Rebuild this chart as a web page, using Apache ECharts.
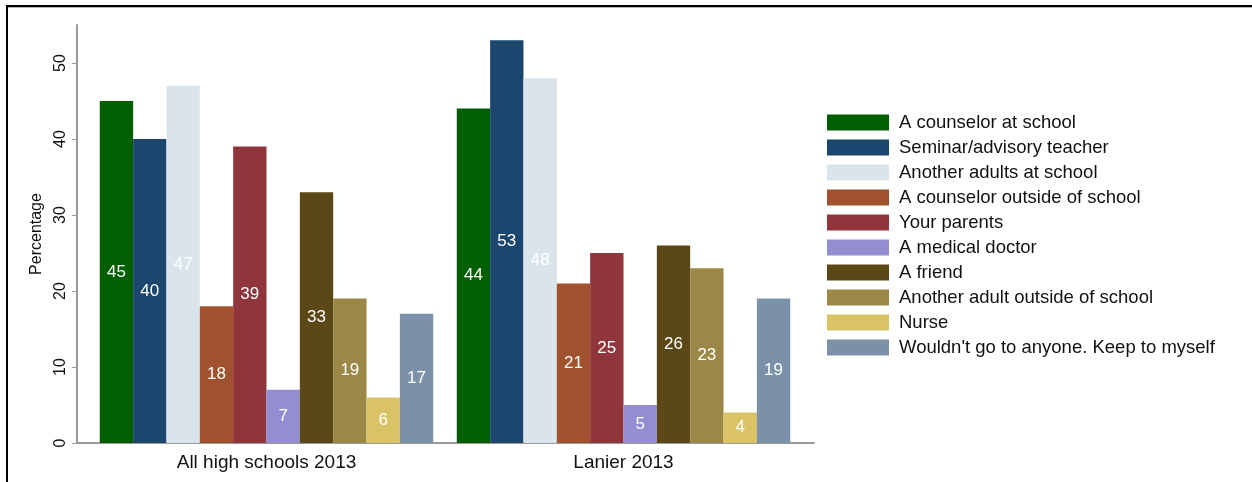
<!DOCTYPE html>
<html>
<head>
<meta charset="utf-8">
<script src="https://cdn.jsdelivr.net/npm/echarts@6/dist/echarts.min.js"></script>
<style>
html,body{margin:0;padding:0;background:#fff;}
#chart{width:1252px;height:482px;}
</style>
</head>
<body>
<div id="chart"></div>
<script>
var categories = ['All high schools 2013', 'Lanier 2013'];
var seriesNames = [
  'A counselor at school',
  'Seminar/advisory teacher',
  'Another adults at school',
  'A counselor outside of school',
  'Your parents',
  'A medical doctor',
  'A friend',
  'Another adult outside of school',
  'Nurse',
  "Wouldn't go to anyone. Keep to myself"
];
var allHighSchools = [45, 40, 47, 18, 39, 7, 33, 19, 6, 17];
var lanier = [44, 53, 48, 21, 25, 5, 26, 23, 4, 19];
var yTicks = [0, 10, 20, 30, 40, 50];
var colors = ['#025f01', '#1b466e', '#d9e4eb', '#a0522e', '#90353c', '#938dd1', '#5a4817', '#9b8847', '#dac367', '#7a91a8'];

var font = '"Liberation Sans", Arial, sans-serif';
var series = seriesNames.map(function (name, i) {
  return {
    name: name,
    type: 'bar',
    xAxisIndex: 1,
    yAxisIndex: 1,
    barGap: 0,
    barCategoryGap: '6.6%',
    data: [allHighSchools[i], lanier[i]],
    itemStyle: { color: colors[i] },
    label: {
      show: true,
      position: 'inside',
      color: '#ffffff',
      fontSize: 17,
      fontFamily: font
    },
    emphasis: { disabled: true }
  };
});

var chart = echarts.init(document.getElementById('chart'), null, { renderer: 'canvas' });
chart.setOption({
  animation: false,
  backgroundColor: '#ffffff',
  color: colors,
  grid: [
    { left: 77, top: 25, right: 438, bottom: 39, containLabel: false },
    { left: 88, top: 25, right: 450, bottom: 39, containLabel: false }
  ],
  legend: {
    orient: 'vertical',
    left: 827,
    top: 113,
    padding: 0,
    itemWidth: 62,
    itemHeight: 16,
    itemGap: 6,
    icon: 'rect',
    textStyle: { fontSize: 18.5, lineHeight: 18, color: '#111', fontFamily: font, padding: [0, 0, 0, 5] },
    data: seriesNames
  },
  xAxis: [
    {
      type: 'category',
      gridIndex: 0,
      data: categories,
      axisLine: { lineStyle: { color: '#9a9a9a', width: 2 } },
      axisTick: { show: false },
      axisLabel: { show: false }
    },
    {
      type: 'category',
      gridIndex: 1,
      data: categories,
      axisLine: { show: false },
      axisTick: { show: false },
      axisLabel: { color: '#111', fontSize: 19, fontFamily: font, margin: 10 }
    }
  ],
  yAxis: [
    {
      type: 'value',
      gridIndex: 0,
      min: 0,
      max: 55,
      interval: 10,
      name: 'Percentage',
      nameLocation: 'middle',
      nameRotate: 90,
      nameGap: 32,
      nameTextStyle: { color: '#111', fontSize: 16, fontFamily: font },
      splitLine: { show: false },
      axisLine: { show: true, lineStyle: { color: '#9a9a9a', width: 2 } },
      axisTick: { show: true, length: 5, lineStyle: { color: '#9a9a9a' }, customValues: yTicks },
      axisLabel: { rotate: 90, color: '#111', fontSize: 16, fontFamily: font, margin: 8, customValues: yTicks }
    },
    {
      type: 'value',
      gridIndex: 1,
      min: 0,
      max: 55,
      interval: 10,
      show: false,
      splitLine: { show: false }
    }
  ],
  graphic: [
    { type: 'rect', shape: { x: 6, y: 5, width: 1246, height: 2 }, style: { fill: '#000' }, silent: true },
    { type: 'rect', shape: { x: 6, y: 5, width: 2, height: 477 }, style: { fill: '#000' }, silent: true },
    { type: 'rect', shape: { x: 8, y: 7, width: 1244, height: 1 }, style: { fill: '#b0b0b0' }, silent: true }
  ],
  series: series
});
</script>
</body>
</html>
